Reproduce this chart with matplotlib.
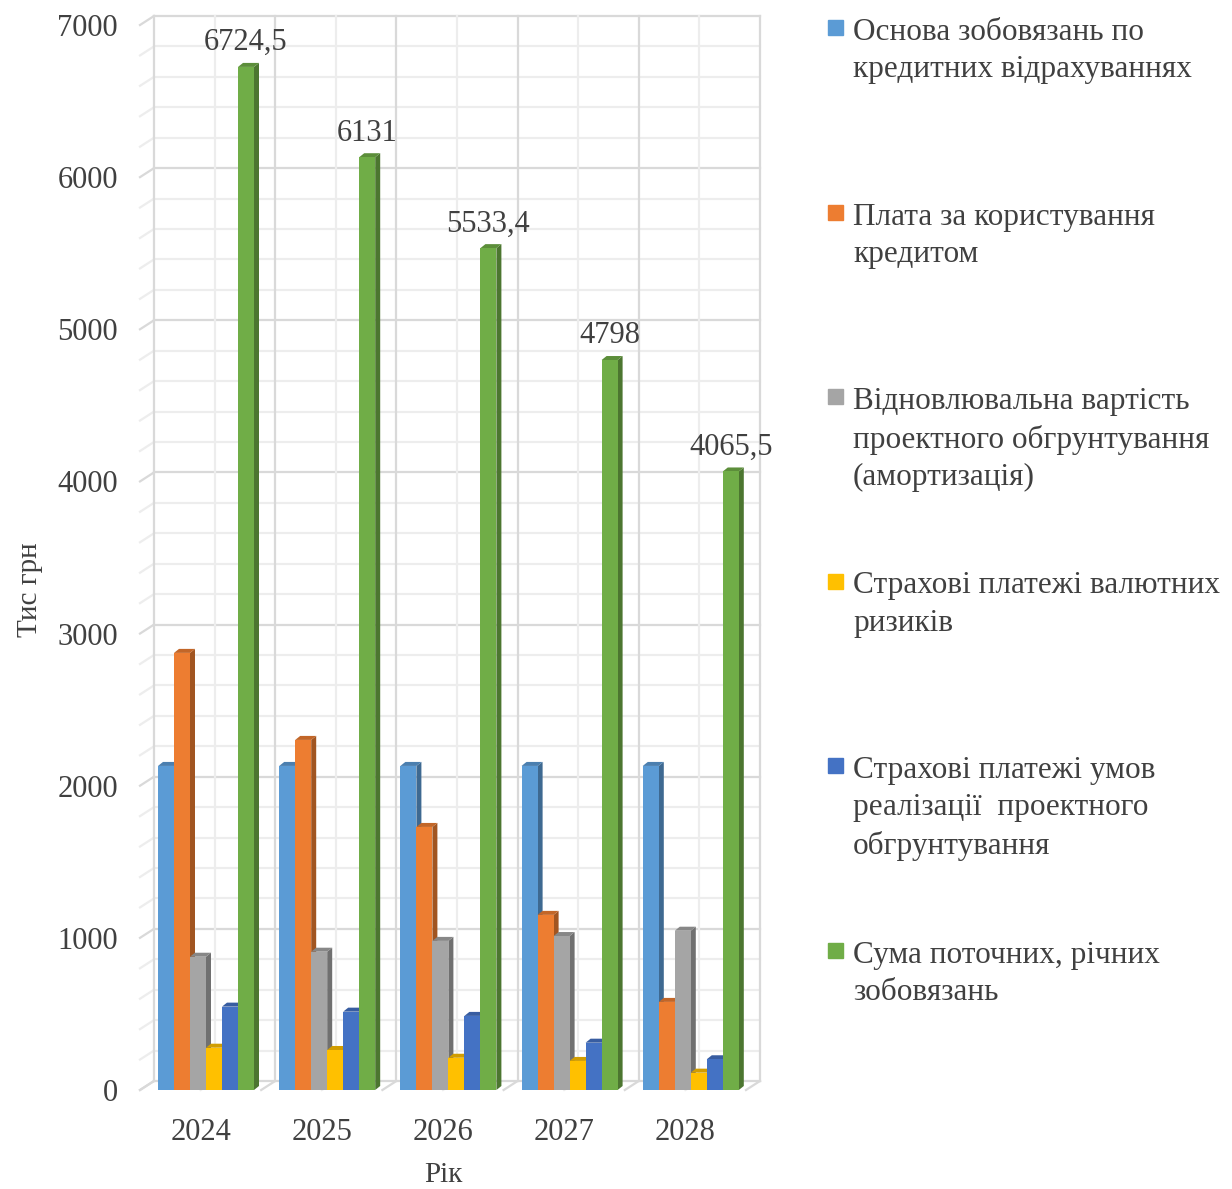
import matplotlib
matplotlib.use("Agg")
import matplotlib.pyplot as plt
import numpy as np
from matplotlib.colors import to_rgb

# data
years = ["2024", "2025", "2026", "2027", "2028"]
series_names = [
    "Основа зобовязань по\nкредитних відрахуваннях",
    "Плата за користування\nкредитом",
    "Відновлювальна вартість\nпроектного обгрунтування\n(амортизація)",
    "Страхові платежі валютних\nризиків",
    "Страхові платежі умов\nреалізації  проектного\nобгрунтування",
    "Сума поточних, річних\nзобовязань",
]
osnova = [2130, 2130, 2130, 2130, 2130]
plata = [2873, 2301, 1729, 1151, 579]
amortyzatsia = [876, 909, 980, 1012, 1047]
valiutni = [278, 263, 212, 191, 114]
umovy = [548, 515, 487, 311, 202]
suma = [6724.5, 6131, 5533.4, 4798, 4065.5]
suma_labels = ["6724,5", "6131", "5533,4", "4798", "4065,5"]

series = [osnova, plata, amortyzatsia, valiutni, umovy, suma]
colors = ["#5B9BD5", "#ED7D31", "#A5A5A5", "#FFC000", "#4472C4", "#70AD47"]

W, H = 1232, 1189
plt.rcParams["font.family"] = ["Liberation Serif", "DejaVu Serif"]
txt = "#404040"

fig = plt.figure(figsize=(W / 100, H / 100), dpi=100)
# front plane of the 3d box: x 140..746 px, y 1090..25 px
ax = fig.add_axes([140 / W, (H - 1090) / H, 606 / W, 1065 / H])
ax.set_xlim(-0.5, 4.5)
ax.set_ylim(0, 7000)

px_x = 5.0 / 606
px_y = 7000.0 / 1065
back_dx, back_dy = 14 * px_x, 9 * px_y      # depth of the back wall
bar_dx, bar_dy = 5 * px_x, 4 * px_y         # depth of each bar

# back wall grid
grid_major = "#d9d9d9"
grid_minor = "#ededed"
for v in range(0, 7001, 200):
    c = grid_major if v % 1000 == 0 else grid_minor
    ax.plot([-0.5 + back_dx, 4.5 + back_dx], [v + back_dy, v + back_dy],
            color=c, lw=1.6, zorder=0, clip_on=False)
    ax.plot([-0.5, -0.5 + back_dx], [v, v + back_dy],
            color=c, lw=1.6, zorder=0, clip_on=False)
for k in range(11):
    xb = -0.5 + k * 0.5 + back_dx
    c = grid_major if k % 2 == 0 else grid_minor
    ax.plot([xb, xb], [back_dy, 7000 + back_dy], color=c, lw=1.6,
            zorder=0, clip_on=False)
    ax.plot([xb - back_dx, xb], [0, back_dy], color=c, lw=1.6,
            zorder=0, clip_on=False)

# bars with a little depth
x = np.arange(len(years))
bar_w = 16 * px_x
group_left = x - 42.6 * px_x
for k, (vals, col) in enumerate(zip(series, colors)):
    rgb = np.array(to_rgb(col))
    side = rgb * 0.68
    top = rgb * 0.82
    left = group_left + k * bar_w
    for xl, v in zip(left, vals):
        xr = xl + bar_w
        ax.fill([xr, xr + bar_dx, xr + bar_dx, xr], [0, bar_dy, v + bar_dy, v],
                color=side, lw=0, zorder=2 + 2 * k)
        ax.fill([xl, xl + bar_dx, xr + bar_dx, xr], [v, v + bar_dy, v + bar_dy, v],
                color=top, lw=0, zorder=2 + 2 * k)
    ax.bar(left, vals, width=bar_w, align="edge", color=col, lw=0,
           zorder=3 + 2 * k)

# value labels on the total series
green_left = group_left + 5 * bar_w
for xl, v, s in zip(green_left, suma, suma_labels):
    ax.annotate(s, (xl + bar_w / 2, v), xytext=(0, 12), textcoords="offset points",
                ha="center", va="baseline", fontsize=22, color=txt, zorder=20)

ax.set_xticks(x)
ax.set_xticklabels(years)
ax.set_yticks(range(0, 7001, 1000))
ax.tick_params(axis="both", length=0, labelsize=22, labelcolor=txt)
ax.tick_params(axis="y", pad=16)
ax.tick_params(axis="x", pad=20)
for s in ax.spines.values():
    s.set_visible(False)

ax.set_xlabel("Рік", fontsize=21, color=txt, va="center")
ax.xaxis.set_label_coords(0.5, (1090 - 1175) / 1065)
ax.set_ylabel("Тис грн", fontsize=21, color=txt, va="center")
ax.yaxis.set_label_coords((30 - 140) / 606, (1090 - 590) / 1065)

# legend on the right, entries evenly spaced
for k, (name, col) in enumerate(zip(series_names, colors)):
    base = 42 + k * 184.5   # baseline of the first line, px from top
    fig.patches.append(plt.Rectangle((828 / W, (H - base + 7) / H), 15 / W, 15 / H,
                                     transform=fig.transFigure, color=col))
    fig.text(853 / W, (H - base + 24) / H, name, fontsize=22.5, color=txt,
             ha="left", va="top", linespacing=1.38)

fig.savefig("out.png", dpi=100)
